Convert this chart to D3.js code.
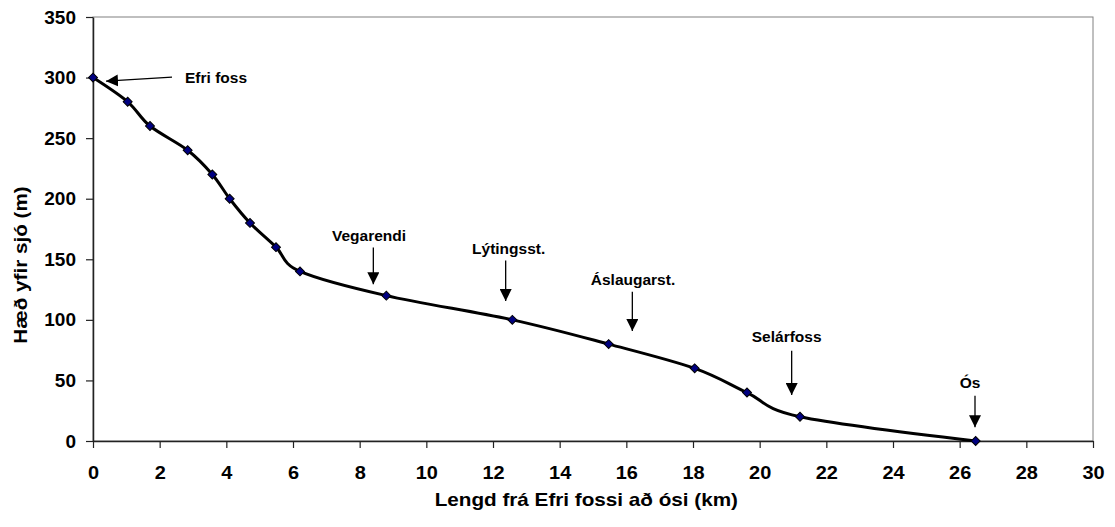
<!DOCTYPE html>
<meta charset="utf-8">
<head>
<style>
  body { margin: 0; background: #fff; font-family: "Liberation Sans", Arial, sans-serif; }
  svg { display: block; }
  .tick text { font-weight: bold; }
</style>
<script src="https://cdn.jsdelivr.net/npm/d3@7"></script>
</head>
<body>
<svg id="chart"></svg>
<script>
// river profile: distance from upper falls (km) and height above sea (m)
let distKm = [0, 1.04, 1.71, 2.84, 3.58, 4.1, 4.71, 5.49, 6.21, 8.8, 12.58, 15.47, 18.05, 19.62, 21.21, 26.48]
let elevM = [300, 280, 260, 240, 220, 200, 180, 160, 140, 120, 100, 80, 60, 40, 20, 0]

let xTicks = d3.range(0, 31, 2)
let yTicks = d3.range(0, 351, 50)

// annotations (data units): label position, arrow start, arrow tip
let noteLabels = ["Efri foss", "Vegarendi", "Lýtingsst.", "Áslaugarst.", "Selárfoss", "Ós"]
let noteAnchor = ["start", "middle", "middle", "middle", "middle", "middle"]
let noteTextX = [2.76, 8.28, 12.47, 16.2, 20.81, 26.31]
let noteTextY = [295.6, 164.7, 154, 128.5, 81.8, 43.6]
let noteFrom = [[2.37, 300.3], [8.41, 159.8], [12.38, 149], [16.18, 123.3], [20.96, 74.4], [26.46, 37.3]]
let noteTo = [[0.39, 297], [8.41, 129.3], [12.38, 115.5], [16.18, 90.8], [20.96, 37.9], [26.46, 11.3]]

function getConfig() {
    let width = 1115, height = 527
    let margin = {top: 17, right: 22, bottom: 86, left: 93}
    let bodyWidth = width - margin.left - margin.right
    let bodyHeight = height - margin.top - margin.bottom
    let container = d3.select("#chart").attr("width", width).attr("height", height)
    return {width, height, margin, bodyWidth, bodyHeight, container}
}

function getScales(config) {
    let x = d3.scaleLinear().domain([0, 30]).range([0, config.bodyWidth])
    let y = d3.scaleLinear().domain([0, 350]).range([config.bodyHeight, 0])
    return {x, y}
}

function drawFrame(scales, config) {
    let {container, margin, bodyWidth, bodyHeight} = config
    let {x, y} = scales

    let body = container.append("g")
        .attr("transform", `translate(${margin.left},${margin.top})`)

    body.append("rect")
        .attr("width", bodyWidth).attr("height", bodyHeight)
        .attr("fill", "none").attr("stroke", "#808080").attr("stroke-width", 1)

    let axisX = body.append("g")
        .attr("transform", `translate(0,${bodyHeight})`)
        .call(d3.axisBottom(x).tickValues(xTicks).tickSize(7).tickSizeOuter(0).tickPadding(18))
    axisX.selectAll("text")
        .style("font-size", "19px").attr("fill", "#000")
        .attr("transform", "scale(1.05,1)")

    let axisY = body.append("g")
        .call(d3.axisLeft(y).tickValues(yTicks).tickSize(7).tickSizeOuter(0).tickPadding(9))
    axisY.selectAll("text")
        .style("font-size", "19px").attr("fill", "#000")
        .attr("dx", "-1")

    container.selectAll(".domain, .tick line").attr("stroke", "#222").attr("stroke-width", 1.5)
    container.selectAll(".tick line").attr("stroke-width", 1.2)

    // axis titles
    container.append("text")
        .attr("transform", `translate(${margin.left + x(14.8)},506) scale(1.15,1)`)
        .attr("text-anchor", "middle")
        .style("font-size", "18px").style("font-weight", "bold")
        .text("Lengd frá Efri fossi að ósi (km)")

    container.append("text")
        .attr("transform", `translate(27,${margin.top + y(175) + 36}) rotate(-90) scale(1.15,1)`)
        .attr("text-anchor", "middle")
        .style("font-size", "18px").style("font-weight", "bold")
        .text("Hæð yfir sjó (m)")

    return body
}

function drawProfile(body, scales) {
    let {x, y} = scales
    let points = distKm.map((d, i) => [d, elevM[i]])

    let line = d3.line()
        .x(d => x(d[0])).y(d => y(d[1]))
        .curve(d3.curveCardinal.tension(0))

    body.append("path")
        .datum(points)
        .attr("fill", "none").attr("stroke", "#000").attr("stroke-width", 3)
        .attr("d", line)

    body.selectAll(".marker")
        .data(points)
        .enter().append("path")
        .attr("class", "marker")
        .attr("d", d3.symbol(d3.symbolSquare, 40))
        .attr("transform", d => `translate(${x(d[0])},${y(d[1])}) rotate(45)`)
        .attr("fill", "#000080").attr("stroke", "#000").attr("stroke-width", 1)
}

function drawNotes(body, scales, config) {
    let {x, y} = scales

    config.container.append("defs").append("marker")
        .attr("id", "head")
        .attr("markerUnits", "userSpaceOnUse")
        .attr("viewBox", "0 0 12 12")
        .attr("refX", 12).attr("refY", 6)
        .attr("markerWidth", 12).attr("markerHeight", 12)
        .attr("orient", "auto")
        .append("path").attr("d", "M0,0 L12,6 L0,12 Z").attr("fill", "#000")

    let notes = body.selectAll(".note")
        .data(noteLabels)
        .enter().append("g")

    notes.append("line")
        .attr("x1", (d, i) => x(noteFrom[i][0])).attr("y1", (d, i) => y(noteFrom[i][1]))
        .attr("x2", (d, i) => x(noteTo[i][0])).attr("y2", (d, i) => y(noteTo[i][1]))
        .attr("stroke", "#000").attr("stroke-width", 1.3)
        .attr("marker-end", "url(#head)")

    notes.append("text")
        .attr("x", (d, i) => x(noteTextX[i])).attr("y", (d, i) => y(noteTextY[i]))
        .attr("text-anchor", (d, i) => noteAnchor[i])
        .style("font-size", "15.5px").style("font-weight", "bold")
        .text(d => d)
}

let config = getConfig()
let scales = getScales(config)
let body = drawFrame(scales, config)
drawProfile(body, scales)
drawNotes(body, scales, config)
</script>
</body>
